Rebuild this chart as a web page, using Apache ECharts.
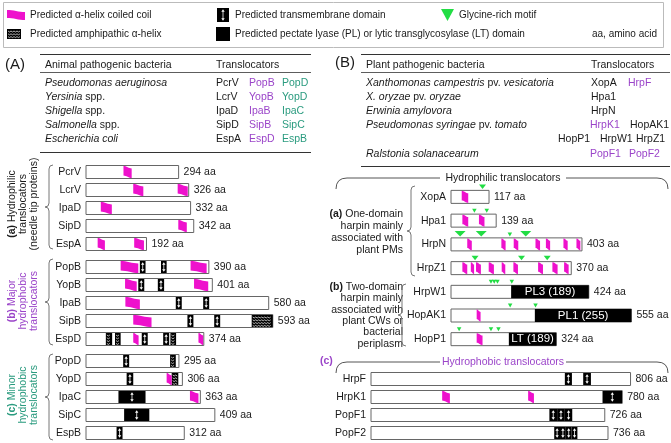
<!DOCTYPE html>
<html><head><meta charset="utf-8">
<script src="https://cdn.jsdelivr.net/npm/echarts@6/dist/echarts.min.js"></script>
<style>html,body{margin:0;padding:0;background:#fff}#c{width:671px;height:443px}</style>
</head><body><div id="c"></div>
<script>
// ================= DATA =================
// Protein groups (categories) and lengths (aa)
const animalNeedleTip = ['PcrV','LcrV','IpaD','SipD','EspA'];
const animalNeedleTipLen = [294,326,332,342,192];
const animalMajor = ['PopB','YopB','IpaB','SipB','EspD'];
const animalMajorLen = [390,401,580,593,374];
const animalMinor = ['PopD','YopD','IpaC','SipC','EspB'];
const animalMinorLen = [295,306,363,409,312];
const plantOneDomain = ['XopA','Hpa1','HrpN','HrpZ1'];
const plantOneDomainLen = [117,139,403,370];
const plantTwoDomain = ['HrpW1','HopAK1','HopP1'];
const plantTwoDomainLen = [424,555,324];
const plantHydrophobic = ['HrpF','HrpK1','PopF1','PopF2'];
const plantHydrophobicLen = [806,780,726,736];

// Features: [protein, start aa, end aa]
const coiledCoil = [
  ['PcrV',119,145],['LcrV',150,182],['LcrV',291,323],['IpaD',47,82],['SipD',293,320],
  ['EspA',37,60],['EspA',153,184],
  ['PopB',110,166],['PopB',332,383],['YopB',124,161],['YopB',343,388],['IpaB',125,171],
  ['SipB',150,208],['EspD',150,167],['EspD',357,372],
  ['YopD',256,272],['IpaC',330,357],
  ['XopA',33,53],['Hpa1',35,53],['Hpa1',86,103],
  ['HrpN',50,64],['HrpN',155,168],['HrpN',193,207],['HrpN',260,274],['HrpN',292,305],['HrpN',346,359],['HrpN',386,398],
  ['HrpZ1',35,50],['HrpZ1',61,71],['HrpZ1',77,92],['HrpZ1',116,132],['HrpZ1',156,167],['HrpZ1',192,206],
  ['HrpZ1',268,283],['HrpZ1',312,328],['HrpZ1',348,362],
  ['HopAK1',79,91],['HopP1',79,97],
  ['HrpK1',221,245],['HrpK1',488,506]
];
const transmembrane = [
  ['PopB',171,189],['PopB',238,256],['YopB',166,185],['YopB',228,248],['IpaB',285,304],['IpaB',372,391],
  ['SipB',322,341],['SipB',407,426],['EspD',177,196],['EspD',245,264],
  ['PopD',118,137],['YopD',129,150],['IpaC',103,189],['SipC',121,201],['EspB',97,116],
  ['HrpF',602,624],['HrpF',659,683],['HrpK1',719,780],
  ['PopF1',554,578],['PopF1',578,602],['PopF1',602,625],
  ['PopF2',569,587],['PopF2',587,605],['PopF2',605,623],['PopF2',623,641]
];
const amphipathic = [
  ['SipB',526,593],['EspD',63,83],['EspD',92,110],['EspD',268,286],['PopD',267,285],['YopD',272,293]
];
const enzymeDomains = [['HrpW1',185,424],['HopAK1',258,555],['HopP1',178,324]];
const enzymeLabels = ['PL3 (189)','PL1 (255)','LT (189)'];
// Glycine-rich motifs: [protein, position aa, size class 1..3]
const glycineMotifs = [
  ['XopA',97,2],['Hpa1',72,1],['Hpa1',110,1],
  ['HrpN',28,3],['HrpN',93,3],['HrpN',181,1],['HrpN',230,3],
  ['HrpZ1',74,2],['HrpZ1',217,2],['HrpZ1',296,2],
  ['HrpW1',123,1],['HrpW1',133,1],['HrpW1',143,1],['HrpW1',187,1],
  ['HopAK1',182,1],['HopAK1',260,1],
  ['HopP1',25,1],['HopP1',123,1],['HopP1',146,1]
];

// Tables
const animalBacteria = ['{i|Pseudomonas aeruginosa}','{i|Yersinia} spp.','{i|Shigella} spp.','{i|Salmonella} spp.','{i|Escherichia coli}'];
const animalTip = ['PcrV','LcrV','IpaD','SipD','EspA'];
const animalMajorT = ['PopB','YopB','IpaB','SipB','EspD'];
const animalMinorT = ['PopD','YopD','IpaC','SipC','EspB'];
const plantBacteria = ['{i|Xanthomonas campestris} pv. {i|vesicatoria}','{i|X. oryzae} pv. {i|oryzae}','{i|Erwinia amylovora}','{i|Pseudomonas syringae} pv. {i|tomato}','','{i|Ralstonia solanacearum}'];
// [row, name, colorKey]  k=black p=purple
const plantTranslocators = [
  [0,'XopA','k'],[0,'HrpF','p'],[1,'Hpa1','k'],[2,'HrpN','k'],[3,'HrpK1','p'],[3,'HopAK1','k'],
  [4,'HopP1','k'],[4,'HrpW1','k'],[4,'HrpZ1','k'],[5,'PopF1','p'],[5,'PopF2','p']
];

// ================= STYLE / LAYOUT =================
const FONT = '"Liberation Sans", Arial, sans-serif';
const FS = 10.5;
const LFS = 10;
const COL = {mag:'#ee11cc', green:'#22dd44', purple:'#9b45c9', teal:'#2a9b7f', txt:'#1a1a1a', box:'#666'};
const BAR_H = 13;
const plantTransX = [591,628,591,591,590,630,558,600,636,590,629];
const tableRowsA = [83,97,111,125,139];
const tableRowsB = [83,97,111,125,139.5,154];

function flag(x0,x1,yT,yB){
  const w=x1-x0, d=(yB-yT)*0.2, pts=[];
  for(let k=0;k<=8;k++){const t=k/8; pts.push([x0+t*w, yT + d*(1-Math.cos(Math.PI*t))/2]);}
  for(let k=0;k<=8;k++){const t=k/8; pts.push([x1-t*w, yB - d*(1-Math.cos(Math.PI*t))/2]);}
  return {type:'polygon', shape:{points:pts}, style:{fill:COL.mag}};
}
function tm(x0,x1,yT,yB){
  const cx=(x0+x1)/2;
  return [
    {type:'rect', shape:{x:x0,y:yT,width:x1-x0,height:yB-yT}, style:{fill:'#000'}},
    {type:'line', shape:{x1:cx,y1:yT+3,x2:cx,y2:yB-3}, style:{stroke:'#fff',lineWidth:0.8}},
    {type:'polygon', shape:{points:[[cx,yT+1.3],[cx-1.7,yT+3.8],[cx+1.7,yT+3.8]]}, style:{fill:'#fff'}},
    {type:'polygon', shape:{points:[[cx,yB-1.3],[cx-1.7,yB-3.8],[cx+1.7,yB-3.8]]}, style:{fill:'#fff'}}
  ];
}
function amph(x0,x1,yT,yB){
  const out=[{type:'rect', shape:{x:x0,y:yT,width:x1-x0,height:yB-yT}, style:{fill:'#000'}}];
  for(let yy=yT+2; yy<yB-1.5; yy+=2.8){
    const pts=[]; let k=0;
    for(let xx=x0+1; xx<=x1-1; xx+=1.5, k++) pts.push([xx, yy+(k%2?1:0)]);
    out.push({type:'polyline', shape:{points:pts}, style:{stroke:'#fff', lineWidth:0.7, fill:'none'}});
  }
  return out;
}
const GLY = {1:[4.5,4],2:[7,4.5],3:[11,5.5]};

function boxSeries(g, lens){
  return {type:'custom', xAxisIndex:g, yAxisIndex:g, silent:true, z:1,
    data: lens.map((L,i)=>[L,i]),
    renderItem:(params, api)=>{
      const i=api.value(1), L=api.value(0);
      const p0=api.coord([0,i]), p1=api.coord([L,i]);
      return {type:'group', children:[
        {type:'rect', shape:{x:p0[0], y:p0[1]-BAR_H/2, width:p1[0]-p0[0], height:BAR_H}, style:{fill:'#fff', stroke:COL.box, lineWidth:1}},
        {type:'text', x:p1[0]+5, y:p1[1], style:{text:L+' aa', fontSize:FS, fontFamily:FONT, fill:COL.txt, align:'left', verticalAlign:'middle', textAlign:'left', textVerticalAlign:'middle'}}
      ]};
    }};
}
function featureSeries(g, names){
  const items=[];
  enzymeDomains.forEach((f,k)=>{const i=names.indexOf(f[0]); if(i>=0) items.push({t:'en',i,s:f[1],e:f[2],label:enzymeLabels[k]});});
  amphipathic.forEach(f=>{const i=names.indexOf(f[0]); if(i>=0) items.push({t:'am',i,s:f[1],e:f[2]});});
  transmembrane.forEach(f=>{const i=names.indexOf(f[0]); if(i>=0) items.push({t:'tm',i,s:f[1],e:f[2]});});
  coiledCoil.forEach(f=>{const i=names.indexOf(f[0]); if(i>=0) items.push({t:'cc',i,s:f[1],e:f[2]});});
  glycineMotifs.forEach(f=>{const i=names.indexOf(f[0]); if(i>=0) items.push({t:'gl',i,s:f[1],e:f[1],sz:f[2]});});
  return {type:'custom', xAxisIndex:g, yAxisIndex:g, silent:true, z:2,
    data: items.map(o=>[o.s,o.i,o.e]),
    renderItem:(params, api)=>{
      const o=items[params.dataIndex];
      const a=api.coord([api.value(0),api.value(1)]), b=api.coord([api.value(2),api.value(1)]);
      const yT=a[1]-BAR_H/2+0.5, yB=a[1]+BAR_H/2-0.5;
      let ch=[];
      if(o.t==='cc') ch=[flag(a[0],b[0],yT,yB)];
      else if(o.t==='tm') ch=tm(a[0],b[0],yT,yB);
      else if(o.t==='am') ch=amph(a[0],b[0],yT,yB);
      else if(o.t==='en') ch=[
        {type:'rect', shape:{x:a[0],y:yT-0.5,width:b[0]-a[0],height:BAR_H}, style:{fill:'#000'}},
        {type:'text', x:(a[0]+b[0])/2, y:a[1], style:{text:o.label, fontSize:11.5, fontFamily:FONT, fill:'#fff', align:'center', verticalAlign:'middle', textAlign:'center', textVerticalAlign:'middle'}}
      ];
      else if(o.t==='gl'){
        const w=GLY[o.sz][0], h=GLY[o.sz][1], top=yT-0.5;
        ch=[{type:'polygon', shape:{points:[[a[0]-w/2,top-h-1.5],[a[0]+w/2,top-h-1.5],[a[0],top-1.5]]}, style:{fill:COL.green}}];
      }
      return {type:'group', children:ch};
    }};
}

const groups = [
  {names:animalNeedleTip, lens:animalNeedleTipLen, left:86, top:163, width:189, height:90, max:600},
  {names:animalMajor, lens:animalMajorLen, left:86, top:258, width:189, height:90, max:600},
  {names:animalMinor, lens:animalMinorLen, left:86, top:352, width:189, height:90, max:600},
  {names:plantOneDomain, lens:plantOneDomainLen, left:451, top:185, width:195, height:95, max:600},
  {names:plantTwoDomain, lens:plantTwoDomainLen, left:451, top:280, width:195, height:71, max:600},
  {names:plantHydrophobic, lens:plantHydrophobicLen, left:371, top:370, width:289.8, height:72, max:900}
];

const grid=[], xAxis=[], yAxis=[], series=[];
groups.forEach((G,g)=>{
  grid.push({left:G.left, top:G.top, width:G.width, height:G.height, containLabel:false});
  xAxis.push({type:'value', gridIndex:g, min:0, max:G.max, show:false});
  yAxis.push({type:'category', gridIndex:g, data:G.names, inverse:true,
    axisLine:{show:false}, axisTick:{show:false}, splitLine:{show:false},
    axisLabel:{fontSize:FS, fontFamily:FONT, color:COL.txt, margin:5}});
  series.push(boxSeries(g, G.lens));
  series.push(featureSeries(g, G.names));
});

// ================= GRAPHIC (legend, tables, labels) =================
function txt(x,y,text,opt){
  opt=opt||{};
  const fs=(opt.style&&opt.style.fontSize)||FS;
  return {type:'text', x:x, y:y, rotation:opt.rotation||0, silent:true,
    style:Object.assign({text:text, fontSize:FS, fontFamily:FONT, fill:COL.txt,
      textAlign:opt.align||'left', textVerticalAlign:'middle', align:opt.align||'left', verticalAlign:'middle',
      rich:{
        i:{fontStyle:'italic', fontSize:fs, fontFamily:FONT, fill:opt.fill||COL.txt},
        b:{fontWeight:'bold', fontSize:fs, fontFamily:FONT, fill:opt.fill||COL.txt}
      }}, opt.style||{})};
}
function line(x1,y1,x2,y2,c,w){return {type:'line', silent:true, shape:{x1,y1,x2,y2}, style:{stroke:c||'#333', lineWidth:w||1}};}
function bez(x1,y1,cx,cy,x2,y2,c){return {type:'bezierCurve', silent:true, shape:{x1,y1,x2,y2,cpx1:cx,cpy1:cy}, style:{stroke:c||'#777', lineWidth:1, fill:'none'}};}
function brace(x, y0, y1, w){
  const m=(y0+y1)/2, xb=x+w*0.5, xe=x+w, c='#777';
  return [
    bez(xe,y0,xb,y0,xb,y0+4,c), line(xb,y0+4,xb,m-4,c,1), bez(xb,m-4,xb,m,x,m,c),
    bez(x,m,xb,m,xb,m+4,c), line(xb,m+4,xb,y1-4,c,1), bez(xb,y1-4,xb,y1,xe,y1,c)
  ];
}
function hbrace(y, tL, tR){
  const c='#555';
  return [bez(336,y+11,336,y,347,y,c), line(347,y,tL,y,c,1), line(tR,y,657,y,c,1), bez(657,y,668,y,668,y+11,c)];
}
const gfx=[];
// Legend box
gfx.push({type:'rect', silent:true, shape:{x:3.5,y:2.5,width:660,height:45}, style:{fill:'#fff', stroke:'#bbb', lineWidth:1}});
gfx.push(flag(7,25,10,20));
gfx.push(txt(30,15,'Predicted α-helix coiled coil',{style:{fontSize:LFS}}));
amph(7,21,29,39).forEach(e=>gfx.push(e));
gfx.push(txt(30,34,'Predicted amphipathic α-helix',{style:{fontSize:LFS}}));
tm(217,229,8,22).forEach(e=>gfx.push(e));
gfx.push(txt(235,15,'Predicted transmembrane domain',{style:{fontSize:LFS}}));
gfx.push({type:'rect', silent:true, shape:{x:216,y:27,width:14,height:14}, style:{fill:'#000'}});
gfx.push(txt(235,34,'Predicted pectate lyase (PL) or lytic transglycosylase (LT) domain',{style:{fontSize:LFS}}));
gfx.push({type:'polygon', silent:true, shape:{points:[[441,9],[454,9],[447.5,21]]}, style:{fill:COL.green}});
gfx.push(txt(459,15,'Glycine-rich motif',{style:{fontSize:LFS}}));
gfx.push(txt(657,34,'aa, amino acid',{align:'right', style:{fontSize:LFS}}));

// Panel labels
gfx.push(txt(5,65,'(A)',{style:{fontSize:15}}));
gfx.push(txt(335,63,'(B)',{style:{fontSize:15}}));

// Table A
gfx.push(line(40,54.5,311,54.5,'#333',1.2));
gfx.push(line(40,72.5,311,72.5,'#333',0.8));
gfx.push(line(40,152.5,311,152.5,'#333',1.2));
gfx.push(txt(45,65,'Animal pathogenic bacteria'));
gfx.push(txt(216,65,'Translocators'));
animalBacteria.forEach((s,r)=>{
  gfx.push(txt(45,tableRowsA[r],s));
  gfx.push(txt(216,tableRowsA[r],animalTip[r]));
  gfx.push(txt(249,tableRowsA[r],animalMajorT[r],{style:{fill:COL.purple}}));
  gfx.push(txt(282,tableRowsA[r],animalMinorT[r],{style:{fill:COL.teal}}));
});
// Table B
gfx.push(line(361,54.5,670,54.5,'#333',1.2));
gfx.push(line(361,72.5,670,72.5,'#333',0.8));
gfx.push(line(361,166.5,670,166.5,'#333',1.2));
gfx.push(txt(366,65,'Plant pathogenic bacteria'));
gfx.push(txt(591,65,'Translocators'));
plantBacteria.forEach((s,r)=>{ if(s) gfx.push(txt(366,tableRowsB[r],s)); });
plantTranslocators.forEach((t,k)=>{
  gfx.push(txt(plantTransX[k],tableRowsB[t[0]],t[1],{style:{fill:t[2]==='p'?COL.purple:COL.txt}}));
});

// Left group labels (rotated) and braces
gfx.push(txt(23,204,'{b|(a)} Hydrophilic\ntranslocators\n(needle tip proteins)',{rotation:Math.PI/2, align:'center', style:{lineHeight:11}}));
gfx.push(txt(23,301,'{b|(b)} Major\nhydrophobic\ntranslocators',{rotation:Math.PI/2, align:'center', fill:COL.purple, style:{lineHeight:11, fill:COL.purple}}));
gfx.push(txt(23,395,'{b|(c)} Minor\nhydrophobic\ntranslocators',{rotation:Math.PI/2, align:'center', fill:COL.teal, style:{lineHeight:11, fill:COL.teal}}));
brace(45,165,249,8).forEach(e=>gfx.push(e));
brace(45,259,345,8).forEach(e=>gfx.push(e));
brace(45,354,440,8).forEach(e=>gfx.push(e));

// Right panel headers & braces
hbrace(178,440,566).forEach(e=>gfx.push(e));
gfx.push(txt(503,178,'Hydrophilic translocators',{align:'center'}));
hbrace(362,440,566).forEach(e=>gfx.push(e));
gfx.push(txt(503,362,'Hydrophobic translocators',{align:'center', style:{fill:COL.purple}}));
gfx.push(txt(320,361,'{b|(c)}',{fill:COL.purple}));
gfx.push(txt(403,232,'{b|(a)} One-domain\nharpin mainly\nassociated with\nplant PMs',{align:'right', style:{lineHeight:12}}));
gfx.push(txt(403,315.5,'{b|(b)} Two-domain\nharpin mainly\nassociated with\nplant CWs or\nbacterial\nperiplasm',{align:'right', style:{lineHeight:11.4}}));
brace(407,186,276,8).forEach(e=>gfx.push(e));
brace(398,284,346,8).forEach(e=>gfx.push(e));

const option = {
  animation:false,
  backgroundColor:'#fff',
  grid, xAxis, yAxis, series,
  graphic:{elements:gfx}
};
const chart = echarts.init(document.getElementById('c'));
chart.setOption(option);
</script>
</body></html>
